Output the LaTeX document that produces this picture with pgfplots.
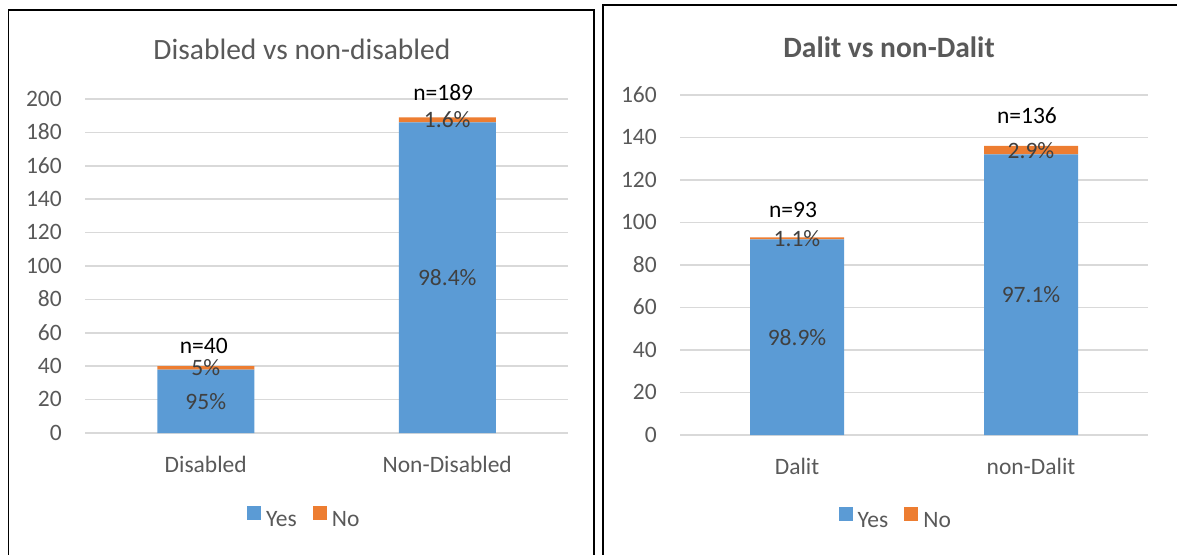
\documentclass[border=0pt]{standalone}
\usepackage{pgfplots}
\pgfplotsset{compat=1.18}
\usepackage{fontspec}
\setmainfont{Carlito}

\definecolor{barblue}{HTML}{5B9BD5}
\definecolor{barorange}{HTML}{ED7D31}
\definecolor{txtgray}{HTML}{595959}
\definecolor{lblgray}{HTML}{404040}
\definecolor{gridgray}{HTML}{D9D9D9}

\newcommand{\lblfont}{\fontsize{23.5}{27}\selectfont}
\newcommand{\ttlfont}{\fontsize{29.5}{33}\selectfont}

\pgfplotsset{
  panel/.style={
    ybar stacked, scale only axis, clip=false,
    xmin=-0.5, xmax=1.5, ymin=0,
    xtick={0,1}, ytick distance=20,
    axis line style={draw=none},
    major tick length=0pt,
    ymajorgrids, grid style={gridgray, line width=1.5pt},
    tick label style={font=\lblfont, text=txtgray},
    /pgf/number format/assume math mode=true,
    yticklabel style={anchor=base east, inner sep=0pt, xshift=-23pt, yshift=-7.3pt},
    xticklabel style={anchor=base, inner sep=0pt, yshift=-39pt},
    legend columns=2,
    legend style={draw=none, fill=none, font=\lblfont, text=txtgray,
      anchor=center, inner sep=0pt,
      nodes={inner sep=0pt},
      /tikz/every odd column/.append style={column sep=5pt},
      /tikz/every even column/.append style={column sep=16pt}},
    legend image code/.code={\fill[##1] (0pt,0pt) rectangle (14pt,14pt);},
  },
  yes/.style={fill=barblue, draw=none},
  no/.style={fill=barorange, draw=none},
}
\tikzset{
  seglabel/.style={font=\lblfont, text=lblgray},
  nlabel/.style={font=\lblfont, text=black},
}

\begin{document}
\begin{tikzpicture}
\useasboundingbox (0pt,0pt) rectangle (1177pt,554pt);

% panel frames
\draw[line width=1.5pt] (8.5pt,-5pt) -- (8.5pt,544pt) -- (594pt,544pt) -- (594pt,-5pt);
\draw[line width=1.5pt] (603pt,-5pt) -- (603pt,549pt) -- (1185pt,549pt);

% ---- Disabled vs non-disabled ----
\node[font=\ttlfont, text=txtgray, anchor=base] at (302pt,494pt) {Disabled vs non-disabled};
\begin{axis}[panel,
  at={(85pt,121pt)}, anchor=south west,
  width=483pt, height=334pt, ymax=200, bar width=97pt,
  xticklabels={Disabled, Non-Disabled},
  legend style={at={(0.452,-0.2515)}},
]
\addplot[yes] coordinates {(0,38) (1,186)};
\addplot[no]  coordinates {(0,2) (1,3)};
\legend{Yes, No}
\coordinate (a1) at (axis cs:0,19);
\coordinate (a2) at (axis cs:0,39);
\coordinate (a3) at (axis cs:1,93);
\coordinate (a4) at (axis cs:1,187.5);
\coordinate (an1) at (axis cs:0,52);
\coordinate (an2) at (axis cs:1,203.6);
\end{axis}
% segment shares and group sizes
\node[seglabel] at (a1) {95\%};
\node[seglabel] at (a2) {5\%};
\node[seglabel] at (a3) {98.4\%};
\node[seglabel] at (a4) {1.6\%};
\node[nlabel, xshift=-2pt] at (an1) {n=40};
\node[nlabel, xshift=-4pt] at (an2) {n=189};

% ---- Dalit vs non-Dalit ----
\node[font=\ttlfont\bfseries, text=txtgray, anchor=base] at (889pt,496pt) {Dalit vs non-Dalit};
\begin{axis}[panel,
  at={(680pt,119pt)}, anchor=south west,
  width=468pt, height=340pt, ymax=160, bar width=94pt,
  xticklabels={Dalit, non-Dalit},
  legend style={at={(0.459,-0.244)}},
]
\addplot[yes] coordinates {(0,92) (1,132)};
\addplot[no]  coordinates {(0,1) (1,4)};
\legend{Yes, No}
\coordinate (b1) at (axis cs:0,46);
\coordinate (b2) at (axis cs:0,92.5);
\coordinate (b3) at (axis cs:1,66);
\coordinate (b4) at (axis cs:1,134);
\coordinate (bn1) at (axis cs:0,106);
\coordinate (bn2) at (axis cs:1,150.4);
\end{axis}
\node[seglabel] at (b1) {98.9\%};
\node[seglabel] at (b2) {1.1\%};
\node[seglabel] at (b3) {97.1\%};
\node[seglabel] at (b4) {2.9\%};
\node[nlabel, xshift=-4pt] at (bn1) {n=93};
\node[nlabel, xshift=-4pt] at (bn2) {n=136};
\end{tikzpicture}
\end{document}
